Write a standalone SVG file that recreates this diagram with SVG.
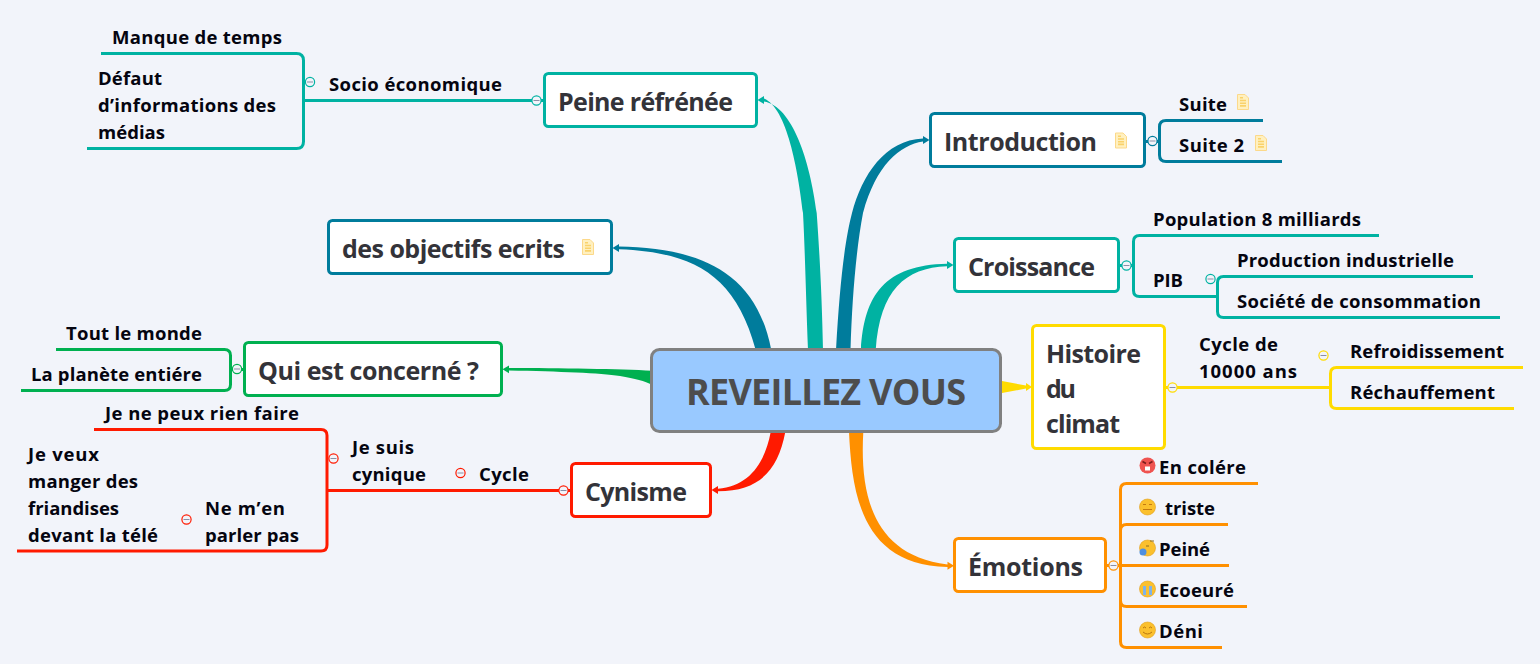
<svg xmlns="http://www.w3.org/2000/svg" width="1540" height="664" viewBox="0 0 1540 664">
<style>
text{font-family:"Open Sans","Noto Sans","Liberation Sans",sans-serif;}
.t{font-size:18.500px;font-weight:700;fill:#050510;}
.h{font-size:25px;font-weight:700;fill:#333339;}
.n{fill:#fff;stroke-width:3;}
.l{fill:none;stroke-width:3;}
.l path{fill:none}
.teal{stroke:#00b2a2;color:#00b2a2}.blue{stroke:#007c9c;color:#007c9c}.green{stroke:#00b050;color:#00b050}.red{stroke:#ff1a00;color:#ff1a00}.orange{stroke:#ff9000;color:#ff9000}.yellow{stroke:#ffdb00;color:#ffdb00}
.c{fill:#f2f4fa;stroke-width:1.200;}
.m{stroke:#8a8fa5;stroke-width:1;fill:none}
.doc{fill:#fff0c0;stroke:#fcd98a;stroke-width:1}
.dl{stroke:#fad26a;stroke-width:1.600}
.face{stroke:#e0a020;stroke-width:.6}
</style>
<defs>
<g id="minus"><circle r="4.600" class="c" stroke="currentColor"/><path d="M-3 0H3" class="m"/></g>
<g id="doc"><path class="doc" d="M-5.500-7.500H2L5.500-4V7.500H-5.500Z"/><path class="dl" d="M-3-1.500H3M-3 1.200H3M-3 3.900H3M-3-4.200H0"/></g>
</defs>
<rect width="1540" height="664" fill="#f2f4fa"/>

<g id="connectors">
<path fill="#00b2a2" d="M808 350C806 300 805 250 803 213C798 170 787 108 764 98.500V96L757.500 100L764 104V101.500C792 106 810 160 816.700 213C820 260 822 300 823 350Z"/>
<path fill="#007c9c" d="M836 350C840 280 845 240 852 213C862 175 885 140 923 138.500V136L929.500 140L923 144V141.500C900 145 876 165 863 213C856 250 852 300 850.500 350Z"/>
<path fill="#00b2a2" d="M861 350C864 295 885 265 947 263.800V261L953.500 265L947 269V266.300C905 268 880 290 875.700 350Z"/>
<path fill="#007c9c" d="M755.700 350C735 272 690 252 619 249.200V252L612.500 248L619 244V246.500C690 248 755 265 771.300 350Z"/>
<path fill="#00b050" d="M652 370.700C620 369 560 368 509 368V365.500L502.500 369.300L509 373.300V370.500C560 371.500 600 373 620 376C635 378.500 645 381 652 385Z"/>
<path fill="#ff1a00" d="M770.700 432C765 462 750 486 718 488.800V486L711.500 490L718 494V491.300C760 491 778 470 785.300 432Z"/>
<path fill="#ff9000" d="M849 432C852 495 862 565 947.500 567V569.700L954 565.700L947.500 561.700V564.500C870 555 860 490 863.300 432Z"/>
<path fill="#ffdb00" d="M1002 381L1026 385.500V383L1032 387L1026 391V388.500L1002 393Z"/>
<g class="l teal"><path d="M101 53.500H296.500Q303.500 53.500 303.500 60.500V141.500Q303.500 148.500 296.500 148.500H87"/><path d="M303.500 100.500H545"/></g>
<g class="l blue"><path d="M1145 141.500H1159.500"/><path d="M1263 120.500H1166Q1159.500 120.500 1159.500 127V155Q1159.500 161.500 1166 161.500H1282"/></g>
<g class="l teal"><path d="M1119 265.500H1133.500"/><path d="M1379 235.500H1139.500Q1133.500 235.500 1133.500 241.500V290.500Q1133.500 296.500 1139.500 296.500H1217.500"/><path d="M1473 276.500H1223.500Q1217.500 276.500 1217.500 282.500V311.500Q1217.500 317.500 1223.500 317.500H1500"/></g>
<g class="l yellow"><path d="M1165 387.500H1330.500"/><path d="M1523 367.500H1336.500Q1330.500 367.500 1330.500 373.500V402.500Q1330.500 408.500 1336.500 408.500H1514"/></g>
<g class="l orange"><path d="M1106 565.500H1120.500"/><path d="M1258 483.500H1126.500Q1120.500 483.500 1120.500 489.500V641.500Q1120.500 647.500 1126.500 647.500H1222"/><path d="M1120.500 530.500Q1120.500 524.500 1126.500 524.500H1228M1120.500 565.500H1229M1120.500 600.500Q1120.500 606.500 1126.500 606.500H1247"/></g>
<g class="l green"><path d="M244 369.500H230.500"/><path d="M56 349.500H224.500Q230.500 349.500 230.500 355.500V384.500Q230.500 390.500 224.500 390.500H21"/></g>
<g class="l red"><path d="M571 490.500H327"/><path d="M94 429.500H321Q327 429.500 327 435.500V545Q327 551 321 551H17"/></g>
</g>

<g id="center"><rect x="651.500" y="349.500" width="349" height="82" rx="8" fill="#99c9ff" stroke="#808080" stroke-width="3"/><text x="686" y="405" font-size="36" font-weight="700" fill="#4d4d4d" textLength="280">REVEILLEZ VOUS</text></g>
<g id="peine"><rect x="544.500" y="73.500" width="212" height="53" rx="4" class="n teal"/><text x="558" y="111" class="h" textLength="175">Peine réfrénée</text><use href="#minus" x="536.500" y="100.500" class="teal"/></g>
<g id="socio"><text x="329" y="91" class="t" textLength="173">Socio économique</text><use href="#minus" x="310" y="82" class="teal"/></g>
<g id="manque"><text x="112" y="44" class="t" textLength="170">Manque de temps</text></g>
<g id="defaut"><text class="t"><tspan x="98" y="85" textLength="64">Défaut</tspan><tspan x="98" y="112" textLength="178">d’informations des</tspan><tspan x="98" y="139" textLength="67">médias</tspan></text></g>

<g id="objectifs"><rect x="328.500" y="220.500" width="283" height="53" rx="4" class="n blue"/><text x="342" y="258" class="h" textLength="223">des objectifs ecrits</text><use href="#doc" x="588" y="247"/></g>

<g id="qui"><rect x="244.500" y="342.500" width="257" height="53" rx="4" class="n green"/><text x="258" y="380" class="h" textLength="221">Qui est concerné ?</text><use href="#minus" x="237" y="369" class="green"/></g>
<g id="tout"><text x="66" y="340" class="t" textLength="136">Tout le monde</text></g>
<g id="planete"><text x="31" y="381" class="t" textLength="171">La planète entiére</text></g>

<g id="cynisme"><rect x="571.500" y="463.500" width="139" height="53" rx="4" class="n red"/><text x="585" y="501" class="h" textLength="102">Cynisme</text><use href="#minus" x="563.500" y="490.500" class="red"/></g>
<g id="cycle"><text x="479" y="481" class="t" textLength="50">Cycle</text><use href="#minus" x="460.500" y="473" class="red"/></g>
<g id="cynique"><text class="t"><tspan x="352" y="454" textLength="62">Je suis</tspan><tspan x="352" y="481" textLength="74">cynique</tspan></text><use href="#minus" x="333.500" y="458.500" class="red"/></g>
<g id="rien"><text x="105" y="420" class="t" textLength="194">Je ne peux rien faire</text></g>
<g id="nemen"><text class="t"><tspan x="205" y="515" textLength="80">Ne m’en</tspan><tspan x="205" y="542" textLength="94">parler pas</tspan></text><use href="#minus" x="186.500" y="519.500" class="red"/></g>
<g id="manger"><text class="t"><tspan x="28" y="461" textLength="71">Je veux</tspan><tspan x="28" y="488" textLength="110">manger des</tspan><tspan x="28" y="515" textLength="91">friandises</tspan><tspan x="28" y="542" textLength="130">devant la télé</tspan></text></g>

<g id="intro"><rect x="930.500" y="113.500" width="214" height="53" rx="4" class="n blue"/><text x="944" y="151" class="h" textLength="153">Introduction</text><use href="#doc" x="1121" y="140.500"/><use href="#minus" x="1152.500" y="141" class="blue"/></g>
<g id="suite"><text x="1179" y="111" class="t" textLength="48">Suite</text><use href="#doc" x="1243" y="102"/></g>
<g id="suite2"><text x="1179" y="152" class="t" textLength="65">Suite 2</text><use href="#doc" x="1261" y="143"/></g>

<g id="croissance"><rect x="954.500" y="238.500" width="164" height="53" rx="4" class="n teal"/><text x="968" y="276" class="h" textLength="127">Croissance</text><use href="#minus" x="1126.500" y="265.500" class="teal"/></g>
<g id="population"><text x="1153" y="226" class="t" textLength="208">Population 8 milliards</text></g>
<g id="pib"><text x="1153" y="287" class="t" textLength="30">PIB</text><use href="#minus" x="1210.500" y="279" class="teal"/></g>
<g id="production"><text x="1237" y="267" class="t" textLength="217">Production industrielle</text></g>
<g id="societe"><text x="1237" y="308" class="t" textLength="244">Société de consommation</text></g>

<g id="histoire"><rect x="1032.500" y="325.500" width="132" height="123" rx="4" class="n yellow"/><text class="h"><tspan x="1046" y="363" textLength="95">Histoire</tspan><tspan x="1046" y="398" textLength="30">du</tspan><tspan x="1046" y="433" textLength="74">climat</tspan></text><use href="#minus" x="1172.500" y="387.500" class="yellow"/></g>
<g id="cycle10"><text class="t"><tspan x="1199" y="351" textLength="79">Cycle de</tspan><tspan x="1199" y="378" textLength="98">10000 ans</tspan></text><use href="#minus" x="1323.500" y="355.500" class="yellow"/></g>
<g id="refroid"><text x="1350" y="358" class="t" textLength="154">Refroidissement</text></g>
<g id="rechauf"><text x="1350" y="399" class="t" textLength="145">Réchauffement</text></g>

<g id="emotions"><rect x="954.500" y="538.500" width="151" height="53" rx="4" class="n orange"/><text x="968" y="576" class="h" textLength="115">Émotions</text><use href="#minus" x="1113.500" y="565.500" class="orange"/></g>
<g id="colere"><circle cx="1147.500" cy="465.500" r="8" fill="#ef5350"/><path d="M1142.500 461.500l3.500 2M1152.500 461.500l-3.500 2" stroke="#7a1d1d" stroke-width="1.500"/><rect x="1145" y="466.500" width="5" height="4" fill="#fff"/><text x="1159" y="474" class="t" textLength="87">En colére</text></g>
<g id="triste"><circle cx="1147.500" cy="507" r="8" fill="#fbc02d" class="face"/><path d="M1143 504.500H1146M1149 504.500H1152M1143 509.500H1152" stroke="#c47a10" stroke-width="1"/><text x="1165" y="515" class="t" textLength="50">triste</text></g>
<g id="peine2"><circle cx="1147.500" cy="548" r="8" fill="#fbc02d" class="face"/><circle cx="1143" cy="552" r="3.500" fill="#4f8fe0"/><path d="M1146 546h3M1150 541h4" stroke="#8a6d1d"/><text x="1159" y="556" class="t" textLength="51">Peiné</text></g>
<g id="ecoeure"><circle cx="1147.500" cy="589" r="8" fill="#fbc02d" class="face"/><path d="M1143 586h3v9h-3zM1149 586h3v9h-3z" fill="#7fb2e8"/><text x="1159" y="597" class="t" textLength="75">Ecoeuré</text></g>
<g id="deni"><circle cx="1147.500" cy="630" r="8" fill="#fbc02d" class="face"/><path d="M1143 628q1.500-2 3 0M1149 628q1.500-2 3 0M1143 632q4.500 4 9 0" stroke="#b9770e" fill="none"/><text x="1159" y="638" class="t" textLength="44">Déni</text></g>
</svg>
